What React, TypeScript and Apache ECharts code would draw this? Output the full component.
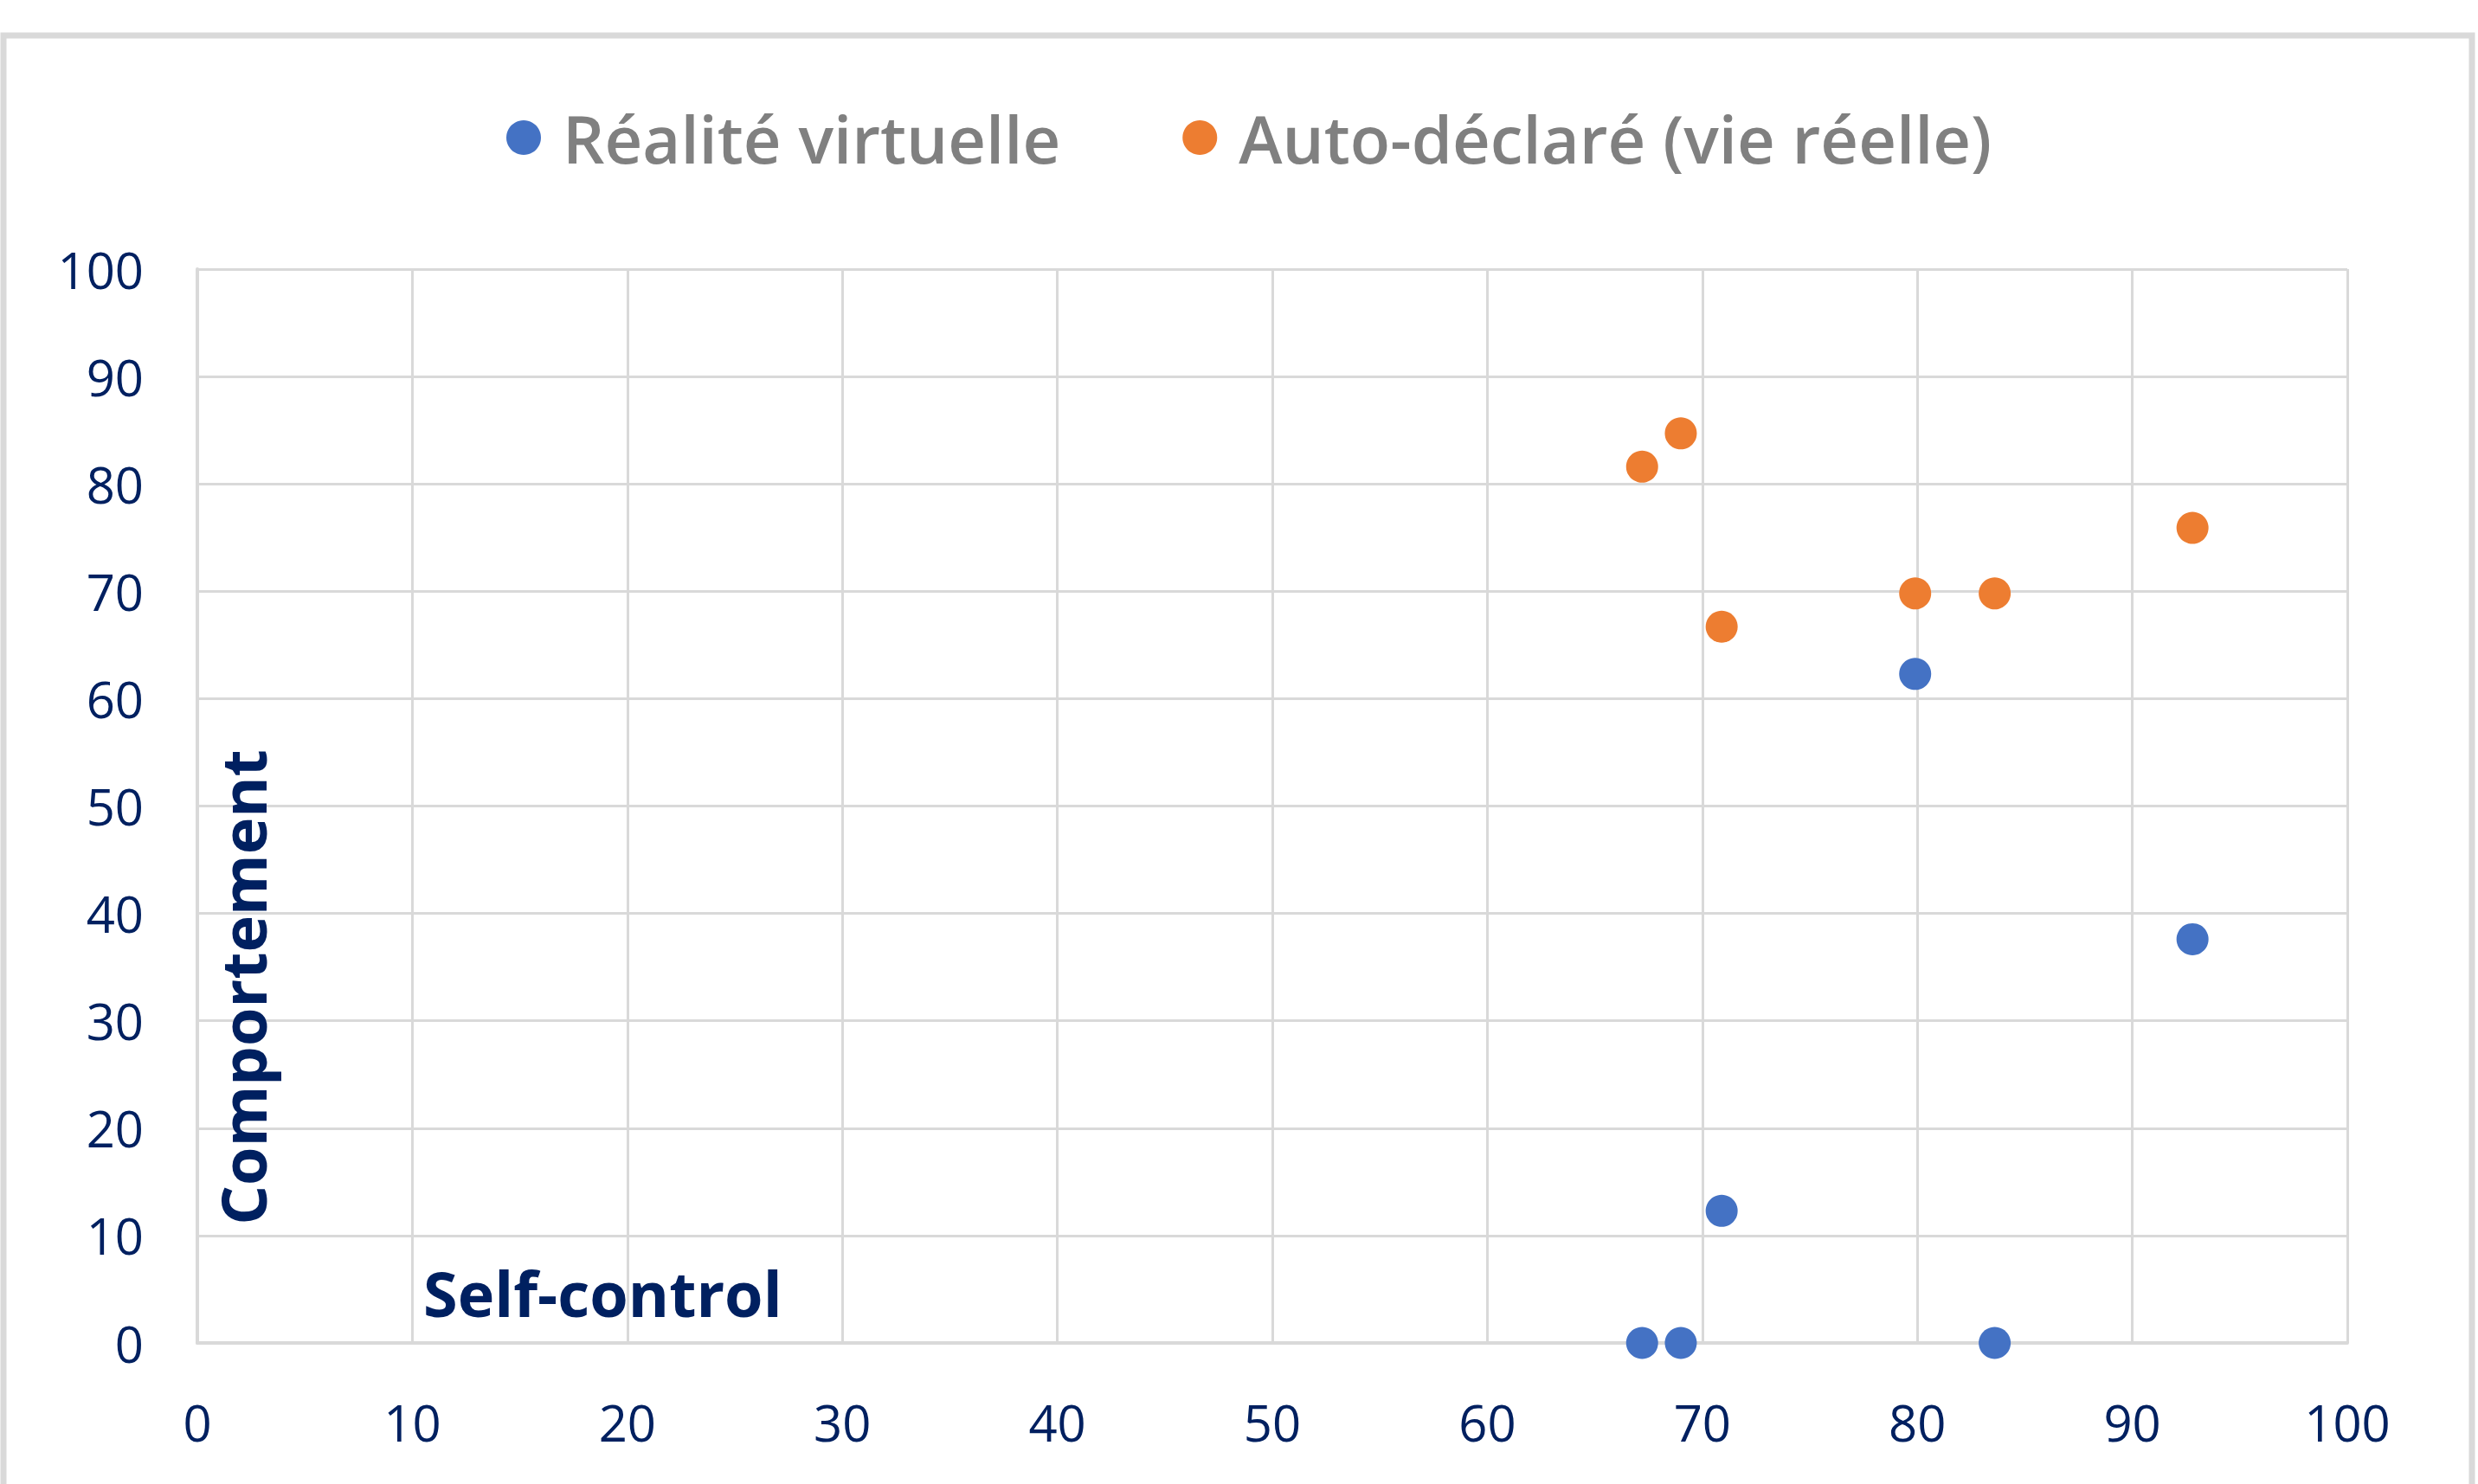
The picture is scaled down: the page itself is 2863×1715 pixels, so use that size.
import React, { useEffect, useRef } from "react";
import * as echarts from "echarts";

const selfControl = [67.2, 69.0, 70.9, 79.9, 83.6, 92.8];
const vrBehaviour = [0, 0, 12.3, 62.3, 0, 37.6];
const selfReported = [81.6, 84.7, 66.7, 69.8, 69.8, 75.9];
const seriesNames = ["Réalité virtuelle", "Auto-déclaré (vie réelle)"];
const seriesColors = ["#4472C4", "#ED7D31"];
const xAxisTitle = "Self-control";
const yAxisTitle = "Comportement";

const W = 2863;
const H = 1715;
const FONT = "'Open Sans', 'Noto Sans', sans-serif";
const NAVY = "#002060";
const GRID_GREY = "#d9d9d9";

export default function App() {
  const ref = useRef<HTMLDivElement>(null);
  useEffect(() => {
    if (!ref.current) return;
    const chart = echarts.init(ref.current, null, { renderer: "svg", width: W, height: H });
    const gridLeft = 228;
    const gridTop = 311;
    const gridRight = 151;
    const gridBottom = 163;
    chart.setOption({
      animation: false,
      backgroundColor: "#ffffff",
      textStyle: { fontFamily: FONT },
      legend: {
        data: seriesNames,
        left: 580,
        top: 116,
        icon: "circle",
        itemWidth: 40,
        itemHeight: 40,
        itemGap: 141,
        textStyle: { fontFamily: FONT, fontSize: 76, fontWeight: 600, color: "#808080", padding: [0, 0, 0, 20] },
      },
      grid: { left: gridLeft, top: gridTop, right: gridRight, bottom: gridBottom, containLabel: false },
      xAxis: {
        type: "value",
        min: 0,
        max: 100,
        interval: 10,
        axisLine: { show: true, lineStyle: { color: GRID_GREY, width: 4 } },
        axisTick: { show: false },
        axisLabel: { color: NAVY, fontSize: 58, fontFamily: FONT, margin: 62 },
        splitLine: { show: true, lineStyle: { color: GRID_GREY, width: 3 } },
      },
      yAxis: {
        type: "value",
        min: 0,
        max: 100,
        interval: 10,
        axisLine: { show: true, lineStyle: { color: GRID_GREY, width: 4 } },
        axisTick: { show: false },
        axisLabel: { color: NAVY, fontSize: 58, fontFamily: FONT, margin: 62 },
        splitLine: { show: true, lineStyle: { color: GRID_GREY, width: 3 } },
      },
      series: [
        {
          name: seriesNames[0],
          type: "scatter",
          symbol: "circle",
          symbolSize: 37,
          itemStyle: { color: seriesColors[0], opacity: 1 },
          data: selfControl.map((x, i) => [x, vrBehaviour[i]]),
          z: 3,
        },
        {
          name: seriesNames[1],
          type: "scatter",
          symbol: "circle",
          symbolSize: 37,
          itemStyle: { color: seriesColors[1], opacity: 1 },
          data: selfControl.map((x, i) => [x, selfReported[i]]),
          z: 3,
        },
      ],
      graphic: [
        {
          type: "rect",
          shape: { x: 4, y: 41, width: 2852, height: 1720 },
          style: { fill: "none", stroke: GRID_GREY, lineWidth: 7 },
          z: 0,
          silent: true,
        },
        {
          type: "text",
          x: 280,
          y: 1141,
          rotation: Math.PI / 2,
          style: {
            text: yAxisTitle,
            fontFamily: FONT,
            fontSize: 72,
            fontWeight: 700,
            fill: NAVY,
            align: "center",
            verticalAlign: "middle",
          },
          z: 10,
        },
        {
          type: "text",
          x: 489,
          y: 1494,
          style: {
            text: xAxisTitle,
            fontFamily: FONT,
            fontSize: 72,
            fontWeight: 700,
            fill: NAVY,
            align: "left",
            verticalAlign: "middle",
          },
          z: 10,
        },
      ],
    });
    return () => chart.dispose();
  }, []);
  return (
    <div
      ref={ref}
      style={{ position: "fixed", left: 0, top: 0, width: W, height: H, background: "#fff" }}
    />
  );
}
